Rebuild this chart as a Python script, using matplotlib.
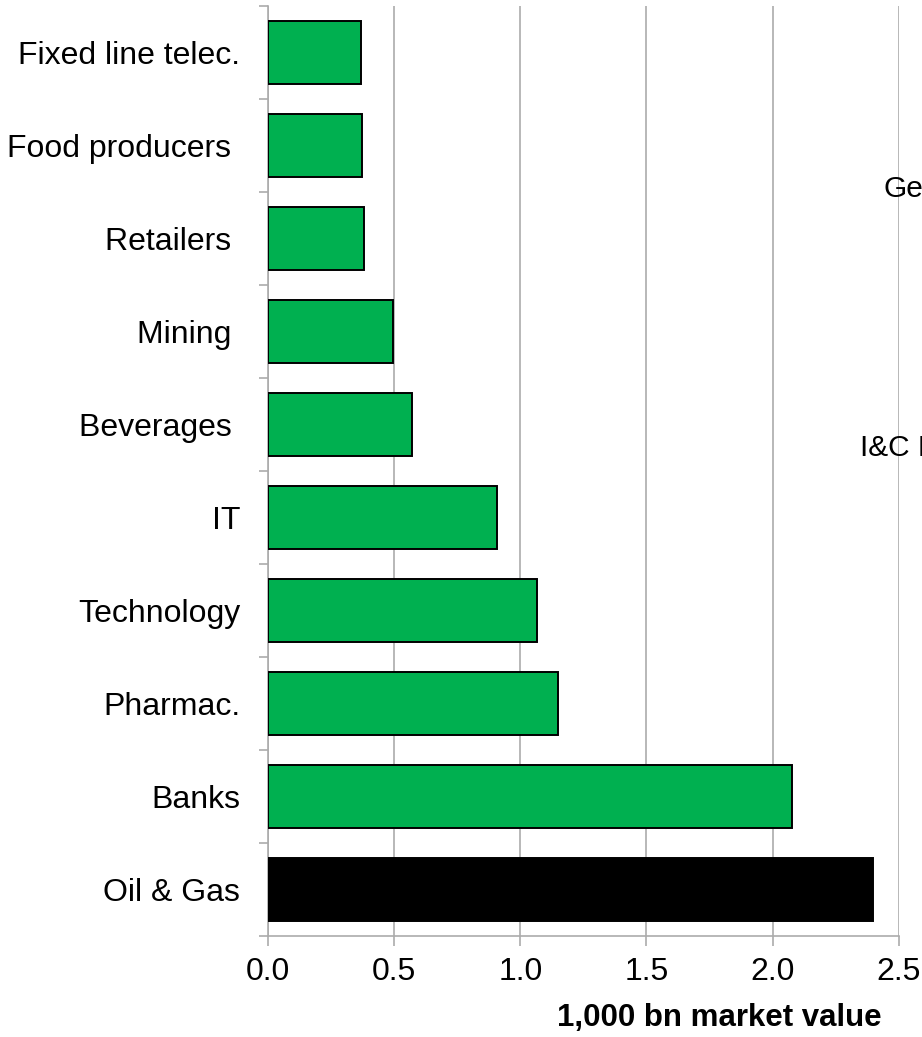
import matplotlib
matplotlib.use("Agg")
import matplotlib.pyplot as plt
import numpy as np

plt.rcParams['font.family'] = ['Liberation Sans', 'DejaVu Sans']

# sectors listed bottom to top
sectors = ['Oil & Gas', 'Banks', 'Pharmac.', 'Technology', 'IT',
           'Beverages ', 'Mining ', 'Retailers ', 'Food producers ',
           'Fixed line telec.']
market_value = [2.398, 2.076, 1.151, 1.066, 0.909,
                0.571, 0.494, 0.379, 0.371, 0.370]
x_ticks = [0.0, 0.5, 1.0, 1.5, 2.0, 2.5]
side_labels = ['General', 'I&C Eq.']

GREEN = '#00B050'
GRID = '#ABABAB'

W, H = 922, 1037
fig = plt.figure(figsize=(W / 100, H / 100), dpi=100)
ax = fig.add_axes([268 / W, 1 - 936 / H, (898.7 - 268) / W, (936 - 6) / H])

y = np.arange(len(sectors))
colors = ['black'] + [GREEN] * (len(sectors) - 1)
ax.barh(y, market_value, height=0.68, color=colors, edgecolor='black',
        linewidth=1.4, zorder=3)

ax.set_xlim(0, 2.5)
ax.set_ylim(-0.5, len(sectors) - 0.5)
ax.set_xticks(x_ticks)
ax.set_xticklabels([f'{t:.1f}' for t in x_ticks], fontsize=23)
ax.xaxis.grid(True, color=GRID, linewidth=1.2, zorder=0)
ax.set_axisbelow(True)

# category labels in the middle, ticks on the boundaries
ax.set_yticks(y)
ax.set_yticklabels(sectors, fontsize=23)
ax.set_yticks(np.arange(-0.5, len(sectors)), minor=True)
ax.tick_params(axis='y', which='major', length=0, pad=20)
ax.tick_params(axis='y', which='minor', length=6.5, width=1.2, color=GRID)
ax.tick_params(axis='x', length=7, width=1.2, color=GRID, pad=8)

for side in ['top', 'right']:
    ax.spines[side].set_visible(False)
for side in ['left', 'bottom']:
    ax.spines[side].set_color(GRID)
    ax.spines[side].set_linewidth(1.2)

fig.text(719.5 / W, 1 - 1018 / H, '1,000 bn market value', fontsize=22.5,
         fontweight='bold', ha='center', va='center')

# labels of the neighbouring panel, cut off by the figure edge
fig.text(883 / W, 1 - 189 / H, side_labels[0], fontsize=21.5, va='center', zorder=5)
fig.text(860 / W, 1 - 448 / H, side_labels[1], fontsize=21.5, va='center', zorder=5)

fig.savefig('out.png', dpi=100)
